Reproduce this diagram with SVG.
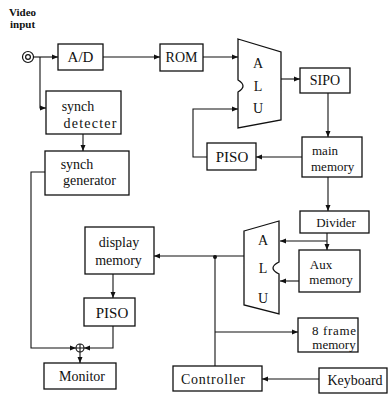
<svg xmlns="http://www.w3.org/2000/svg" width="388" height="396" viewBox="0 0 388 396">
<style>
.box{fill:#fff;stroke:#111;stroke-width:1.3}
.alu{fill:#fff;stroke:#111;stroke-width:1.3}
.ln{fill:none;stroke:#111;stroke-width:1.1}
.t{font-family:"Liberation Serif",serif;font-size:14px;fill:#111;text-anchor:middle}
.s{font-size:13px}
.h{font-family:"Liberation Serif",serif;font-size:11px;font-weight:bold;fill:#111}
</style>
<defs>
<marker id="a" markerUnits="userSpaceOnUse" markerWidth="7" markerHeight="6" refX="6" refY="3" orient="auto">
<path d="M0,0.5 L6,3 L0,5.5 Z" fill="#111"/>
</marker>
</defs>
<rect width="388" height="396" fill="#fff"/>
<g id="video-input">
<text class="h" x="9" y="15.5">Video</text>
<text class="h" x="10" y="27.5">input</text>
<circle cx="28" cy="57" r="5.5" fill="none" stroke="#111" stroke-width="1.2"/>
<circle cx="28" cy="57" r="2.4" fill="none" stroke="#111" stroke-width="1.2"/>
</g>
<g id="ad"><rect class="box" x="58" y="44" width="45" height="26"/><text class="t" x="80.5" y="62" style="font-size:15px">A/D</text></g>
<g id="rom"><rect class="box" x="160" y="44" width="43" height="27"/><text class="t" x="181.5" y="62">ROM</text></g>
<g id="alu1"><path class="alu" d="M238,39 L281,52 L281,120 L238,128 L238,92 Q243,89 243,86 Q243,83 238,80 Z"/>
<text class="t" x="258" y="68">A</text><text class="t" x="258" y="91">L</text><text class="t" x="258" y="113">U</text></g>
<g id="sipo"><rect class="box" x="300" y="68" width="50" height="25"/><text class="t" x="325" y="85">SIPO</text></g>
<g id="main-memory"><rect class="box" x="302" y="137" width="60" height="40"/><text class="t s" x="312" y="155" style="text-anchor:start">main</text><text class="t s" x="311" y="171" style="text-anchor:start">memory</text></g>
<g id="piso1"><rect class="box" x="207" y="143" width="49" height="27"/><text class="t" x="232" y="162" style="font-size:15px">PISO</text></g>
<g id="divider"><rect class="box" x="300" y="211" width="69" height="22"/><text class="t s" x="336" y="227">Divider</text></g>
<g id="aux-memory"><rect class="box" x="299" y="250" width="61" height="42"/><text class="t s" x="321" y="269">Aux</text><text class="t s" x="331" y="284">memory</text></g>
<g id="alu2"><path class="alu" d="M244,231 L279,221 L279,262 Q273,265 273,268 Q273,271 279,274 L279,314 L244,305 Z"/>
<text class="t" x="263" y="245">A</text><text class="t" x="263" y="273">L</text><text class="t" x="263" y="303">U</text></g>
<g id="frame-memory"><rect class="box" x="298" y="318" width="60" height="34"/><text class="t s" x="334" y="335" textLength="44">8 frame</text><text class="t s" x="334" y="349">memory</text></g>
<g id="synch-detecter"><rect class="box" x="46" y="91" width="75" height="43"/><text class="t" x="78" y="111">synch</text><text class="t" x="90" y="128" textLength="53">detecter</text></g>
<g id="synch-generator"><rect class="box" x="45" y="151" width="84" height="44"/><text class="t" x="77" y="169">synch</text><text class="t" x="89.5" y="185">generator</text></g>
<g id="display-memory"><rect class="box" x="85" y="227" width="69" height="47"/><text class="t" x="119" y="247">display</text><text class="t" x="118.5" y="265">memory</text></g>
<g id="piso2"><rect class="box" x="84" y="298" width="51" height="28"/><text class="t" x="112" y="318" style="font-size:15px">PISO</text></g>
<g id="mixer"><circle cx="80" cy="348" r="4" fill="#fff" stroke="#111" stroke-width="1.1"/><path class="ln" d="M76,348 H84 M80,344 V352"/></g>
<g id="monitor"><rect class="box" x="44" y="363" width="72" height="26"/><text class="t" x="82" y="381">Monitor</text></g>
<g id="controller"><rect class="box" x="173" y="366" width="89" height="25"/><text class="t" x="213" y="384" textLength="64">Controller</text></g>
<g id="keyboard"><rect class="box" x="319" y="368" width="68" height="25"/><text class="t" x="355" y="385">Keyboard</text></g>
<g id="connectors">
<path class="ln" d="M33.5,57 H58" marker-end="url(#a)"/>
<path class="ln" d="M40,57 V108 H46" marker-end="url(#a)"/>
<path class="ln" d="M103,57 H160" marker-end="url(#a)"/>
<path class="ln" d="M203,57 H238" marker-end="url(#a)"/>
<path class="ln" d="M281,79 H300" marker-end="url(#a)"/>
<path class="ln" d="M328,93 V137" marker-end="url(#a)"/>
<path class="ln" d="M302,157 H256" marker-end="url(#a)"/>
<path class="ln" d="M207,157 H193 V109 H238" marker-end="url(#a)"/>
<path class="ln" d="M328,177 V211" marker-end="url(#a)"/>
<path class="ln" d="M327,233 V250" marker-end="url(#a)"/>
<path class="ln" d="M327,241 H280" marker-end="url(#a)"/>
<path class="ln" d="M299,281 H280" marker-end="url(#a)"/>
<path class="ln" d="M244,256 H154" marker-end="url(#a)"/>
<path class="ln" d="M215,366 V256"/>
<circle cx="215" cy="257" r="2" fill="#111"/>
<path class="ln" d="M215,332 H298" marker-end="url(#a)"/>
<path class="ln" d="M319,379 H262" marker-end="url(#a)"/>
<path class="ln" d="M83,134 V151" marker-end="url(#a)"/>
<path class="ln" d="M45,172 H31 V348 H76" marker-end="url(#a)"/>
<path class="ln" d="M113,274 V298" marker-end="url(#a)"/>
<path class="ln" d="M113,326 V348 H84" marker-end="url(#a)"/>
<path class="ln" d="M80,352 V363" marker-end="url(#a)"/>
</g>
</svg>
